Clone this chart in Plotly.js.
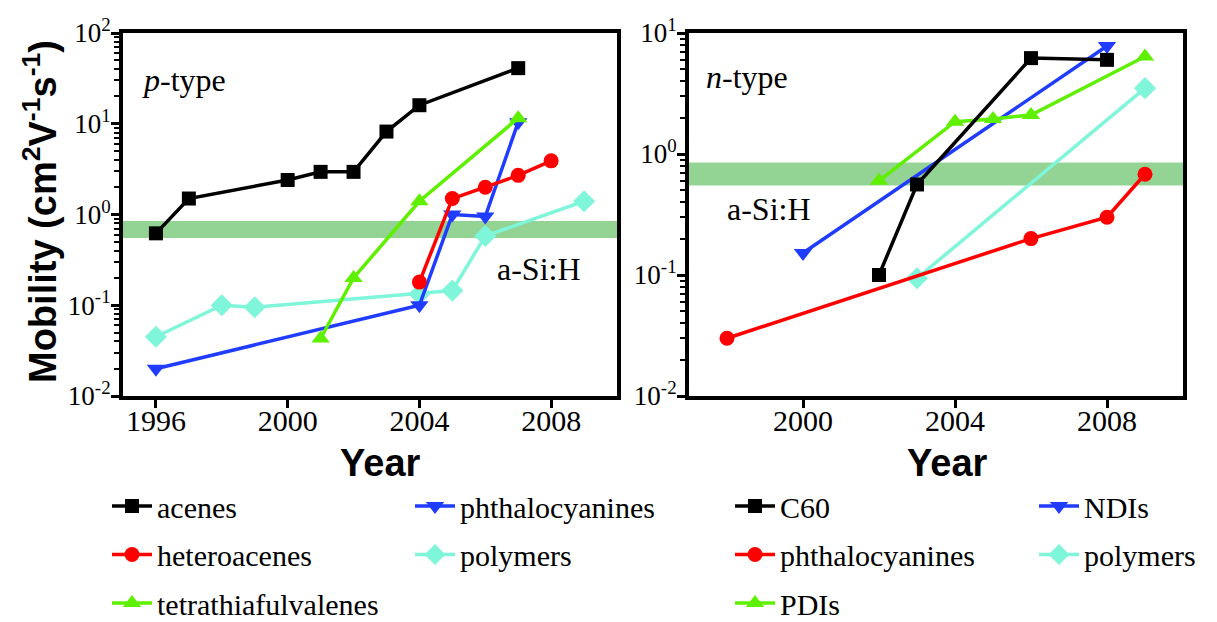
<!DOCTYPE html>
<html><head><meta charset="utf-8">
<script src="https://cdn.plot.ly/plotly-3.0.1.min.js"></script>
<style>html,body{margin:0;padding:0;background:#fff}</style>
</head><body><div id="chart" style="width:1217px;height:622px"></div>
<script>
// ---------- p-type panel data (mobility, cm2 V-1 s-1) ----------
const pAcenesYears = [1996, 1997, 2000, 2001, 2002, 2003, 2004, 2007];
const pAcenes = [0.62, 1.5, 2.4, 2.95, 2.95, 8.2, 16, 41];
const pPhthaloYears = [1996, 2004, 2005, 2006, 2007];
const pPhthalo = [0.02, 0.1, 1.0, 0.95, 10.4];
const pHeteroYears = [2004, 2005, 2006, 2007, 2008];
const pHetero = [0.18, 1.5, 2.0, 2.7, 3.9];
const pPolymerYears = [1996, 1998, 1999, 2004, 2005, 2006, 2009];
const pPolymer = [0.045, 0.1, 0.095, 0.133, 0.145, 0.58, 1.4];
const pTTFYears = [2001, 2002, 2004, 2007];
const pTTF = [0.043, 0.2, 1.4, 11.5];
// ---------- n-type panel data ----------
const nC60Years = [2002, 2003, 2006, 2008];
const nC60 = [0.1, 0.56, 6.2, 6.0];
const nNDIYears = [2000, 2008];
const nNDI = [0.152, 7.8];
const nPhthaloYears = [1998, 2006, 2008, 2009];
const nPhthalo = [0.03, 0.2, 0.3, 0.68];
const nPolymerYears = [2003, 2009];
const nPolymer = [0.094, 3.5];
const nPDIYears = [2002, 2004, 2005, 2006, 2009];
const nPDI = [0.6, 1.85, 1.95, 2.1, 6.4];
// a-Si:H reference band
const aSiBand = [0.55, 0.85];
// axes
const pYTickVals = [0.01, 0.1, 1, 10, 100];
const pYTickText = ['10<sup>-2</sup>', '10<sup>-1</sup>', '10<sup>0</sup>', '10<sup>1</sup>', '10<sup>2</sup>'];
const nYTickVals = [0.01, 0.1, 1, 10];
const nYTickText = ['10<sup>-2</sup>', '10<sup>-1</sup>', '10<sup>0</sup>', '10<sup>1</sup>'];
const pXTicks = [1996, 2000, 2004, 2008];
const nXTicks = [2000, 2004, 2008];
const minorMantissas = [2, 3, 4, 5, 6, 7, 8, 9];

function minorTicks(decades) {
  const out = [];
  decades.forEach(d => minorMantissas.forEach(m => out.push(m * d)));
  return out;
}

const C = {black:'#000000', red:'#ff0000', blue:'#1f3cff', cyan:'#7ff5da', green:'#5ff000'};
function tr(x, y, name, color, symbol, xa, ya, legend, size) {
  return {x:x, y:y, name:name, type:'scatter', mode:'lines+markers', xaxis:xa, yaxis:ya,
    legend:legend, legendgroup:name+xa,
    line:{color:color, width:3.5}, marker:{color:color, symbol:symbol, size:size}};
}
const data = [
  tr(pPolymerYears, pPolymer, 'polymers', C.cyan, 'diamond', 'x', 'y', 'legend2', 17),
  tr(pPhthaloYears, pPhthalo, 'phthalocyanines', C.blue, 'triangle-down', 'x', 'y', 'legend2', 16),
  tr(pHeteroYears, pHetero, 'heteroacenes', C.red, 'circle', 'x', 'y', 'legend', 15),
  tr(pTTFYears, pTTF, 'tetrathiafulvalenes', C.green, 'triangle-up', 'x', 'y', 'legend', 16),
  tr(pAcenesYears, pAcenes, 'acenes', C.black, 'square', 'x', 'y', 'legend', 14),
  tr(nPolymerYears, nPolymer, 'polymers', C.cyan, 'diamond', 'x2', 'y2', 'legend4', 17),
  tr(nPhthaloYears, nPhthalo, 'phthalocyanines', C.red, 'circle', 'x2', 'y2', 'legend3', 15),
  tr(nNDIYears, nNDI, 'NDIs', C.blue, 'triangle-down', 'x2', 'y2', 'legend4', 16),
  tr(nPDIYears, nPDI, 'PDIs', C.green, 'triangle-up', 'x2', 'y2', 'legend3', 16),
  tr(nC60Years, nC60, 'C60', C.black, 'square', 'x2', 'y2', 'legend3', 14)
];
// legend ordering
const order = {'acenes':1,'heteroacenes':2,'tetrathiafulvalenes':3,'phthalocyanines':1,'polymers':2,'C60':1,'PDIs':3,'NDIs':1};
data.forEach(d => { d.legendrank = (d.legend==='legend3' && d.name==='phthalocyanines') ? 2 : order[d.name]; });

const serif = 'Liberation Serif, Times New Roman, serif';
const sans = 'Liberation Sans, Arial, sans-serif';
const W = 1217, H = 622;
const px = v => v / W, py = v => 1 - v / H;

function xax(domain, range, ticks) {
  return {domain:domain, range:range, tickmode:'array', tickvals:ticks, ticktext:ticks.map(String),
    showline:true, mirror:true, linewidth:4, linecolor:'#000', ticks:'outside', ticklen:8, tickwidth:3,
    tickcolor:'#000', showgrid:false, zeroline:false, ticklabelstandoff:-13,
    tickfont:{family:serif, size:30, color:'#000'}};
}
function yax(domain, range, vals, text, anchor, minor) {
  return {domain:domain, type:'log', range:range, tickmode:'array', tickvals:vals, ticktext:text,
    anchor:anchor, showline:true, mirror:true, linewidth:4, linecolor:'#000', ticks:'outside', ticklen:8,
    tickwidth:3, tickcolor:'#000', showgrid:false, zeroline:false, ticklabelstandoff:-5,
    minor:{tickmode:'array', tickvals:minor, ticks:'outside', ticklen:5, tickwidth:2, tickcolor:'#000', showgrid:false},
    tickfont:{family:serif, size:27, color:'#000'}};
}
const yDom = [1 - 396/H, 1 - 33/H];
function leg(x) {
  return {x:px(x), xanchor:'left', y:py(480), yanchor:'top', orientation:'v',
    font:{family:serif, size:30, color:'#000'}, bgcolor:'rgba(0,0,0,0)', borderwidth:0,
    tracegroupgap:6.5, traceorder:'grouped', itemwidth:40};
}
const layout = {
  width:W, height:H, margin:{l:0, r:0, t:0, b:0, autoexpand:false}, paper_bgcolor:'#fff', plot_bgcolor:'#fff',
  showlegend:true,
  xaxis: xax([px(123), px(617)], [1995, 2010], pXTicks),
  yaxis: yax(yDom, [-2, 2], pYTickVals, pYTickText, 'x', minorTicks([0.01, 0.1, 1, 10])),
  xaxis2: Object.assign(xax([px(689), px(1183)], [1997, 2010], nXTicks), {anchor:'y2'}),
  yaxis2: yax(yDom, [-2, 1], nYTickVals, nYTickText, 'x2', minorTicks([0.01, 0.1, 1])),
  legend: leg(107), legend2: leg(410), legend3: leg(730), legend4: leg(1034),
  shapes: [
    {type:'rect', xref:'x domain', yref:'y', x0:0, x1:1, y0:aSiBand[0], y1:aSiBand[1],
      fillcolor:'#93d393', line:{width:0}, layer:'below'},
    {type:'rect', xref:'x2 domain', yref:'y2', x0:0, x1:1, y0:aSiBand[0], y1:aSiBand[1],
      fillcolor:'#93d393', line:{width:0}, layer:'below'}
  ],
  annotations: [
    {text:'<b>Mobility (cm<sup>2</sup>V<sup>-1</sup>s<sup>-1</sup>)</b>', textangle:-90, xref:'paper', yref:'paper',
      x:px(40), y:py(212), showarrow:false, xanchor:'center', yanchor:'middle',
      font:{family:sans, size:38, color:'#000'}},
    {text:'<b>Year</b>', xref:'paper', yref:'paper', x:px(380), y:py(463), showarrow:false,
      xanchor:'center', yanchor:'middle', font:{family:sans, size:38, color:'#000'}},
    {text:'<b>Year</b>', xref:'paper', yref:'paper', x:px(947), y:py(463), showarrow:false,
      xanchor:'center', yanchor:'middle', font:{family:sans, size:38, color:'#000'}},
    {text:'<i>p</i>-type', xref:'paper', yref:'paper', x:px(140), y:py(80), xanchor:'left', yanchor:'middle',
      showarrow:false, font:{family:serif, size:32, color:'#000'}},
    {text:'<i>n</i>-type', xref:'paper', yref:'paper', x:px(704), y:py(77), xanchor:'left', yanchor:'middle',
      showarrow:false, font:{family:serif, size:32, color:'#000'}},
    {text:'a-Si:H', xref:'paper', yref:'paper', x:px(495), y:py(269), xanchor:'left', yanchor:'middle',
      showarrow:false, font:{family:serif, size:32, color:'#000'}},
    {text:'a-Si:H', xref:'paper', yref:'paper', x:px(725), y:py(209), xanchor:'left', yanchor:'middle',
      showarrow:false, font:{family:serif, size:32, color:'#000'}}
  ]
};
Plotly.newPlot('chart', data, layout, {displayModeBar:false, staticPlot:true});
</script></body></html>
